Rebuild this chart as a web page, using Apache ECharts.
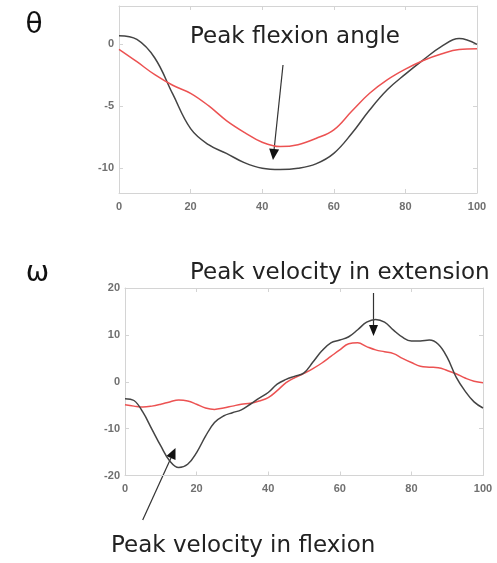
<!DOCTYPE html>
<html>
<head>
<meta charset="utf-8">
<script src="https://cdn.jsdelivr.net/npm/echarts@6/dist/echarts.min.js"></script>
<style>
  html, body { margin: 0; padding: 0; background: #fff; }
  #chart { width: 497px; height: 563px; }
</style>
</head>
<body>
<div id="chart"></div>
<script>
// top panel: angle (theta)
var xTop = [0, 5, 10, 15, 20, 25, 30, 35, 40, 45, 50, 55, 60, 65, 70, 75, 80, 85, 90, 95, 100];
var thetaBlack = [0.7, 0.4, -1.1, -4.0, -6.8, -8.1, -8.8, -9.55, -10.0, -10.1, -10.0, -9.65, -8.8, -7.2, -5.3, -3.65, -2.4, -1.25, -0.18, 0.47, 0.0];
var thetaRed = [-0.4, -1.4, -2.45, -3.3, -3.95, -4.95, -6.15, -7.1, -7.9, -8.25, -8.1, -7.6, -6.9, -5.4, -3.95, -2.85, -2.0, -1.3, -0.78, -0.42, -0.36];

// bottom panel: velocity (omega)
var xBot = [0, 2.5, 5, 7.5, 10, 12.5, 15, 17.5, 20, 22.5, 25, 27.5, 30, 32.5, 35, 37.5, 40, 42.5, 45, 47.5, 50,
            52.5, 55, 57.5, 60, 62.5, 65, 67.5, 70, 72.5, 75, 77.5, 80, 82.5, 85, 87.5, 90, 92.5, 95, 97.5, 100];
var omegaBlack = [-3.6, -4.0, -6.5, -10.1, -13.7, -16.9, -18.3, -17.6, -15.1, -11.6, -8.7, -7.3, -6.6, -6.0, -4.8, -3.5, -2.3, -0.5, 0.5, 1.2, 1.9,
                  4.2, 6.6, 8.3, 8.9, 9.6, 11.1, 12.7, 13.3, 12.7, 11.0, 9.5, 8.7, 8.7, 8.9, 8.0, 5.2, 1.0, -2.0, -4.3, -5.6];
var omegaRed = [-4.9, -5.2, -5.4, -5.2, -4.8, -4.3, -3.9, -4.1, -4.8, -5.6, -5.9, -5.6, -5.2, -4.8, -4.6, -4.1, -3.4, -1.9, -0.2, 0.9, 1.8,
                2.8, 4.0, 5.4, 6.8, 8.1, 8.3, 7.5, 6.8, 6.4, 6.0, 5.0, 4.1, 3.3, 3.1, 3.0, 2.4, 1.7, 0.8, 0.1, -0.2];

var thetaTicks = [-10, -5, 0];

var frameColor = '#d4d4d4';
var labelStyle = { color: '#707070', fontSize: 11, fontFamily: 'Liberation Sans', fontWeight: 'bold' };
var noteFont = '23px "DejaVu Sans"';

function pairs(xs, ys) {
    return xs.map(function (x, i) { return [x, ys[i]]; });
}

function arrow(x1, y1, x2, y2, len, half) {
    var dx = x2 - x1, dy = y2 - y1;
    var d = Math.sqrt(dx * dx + dy * dy);
    var ux = dx / d, uy = dy / d;
    var bx = x2 - ux * len, by = y2 - uy * len;
    return [
        { type: 'line', shape: { x1: x1, y1: y1, x2: bx, y2: by },
          style: { stroke: '#333', lineWidth: 1.2 } },
        { type: 'polygon', shape: { points: [[x2, y2], [bx - uy * half, by + ux * half], [bx + uy * half, by - ux * half]] },
          style: { fill: '#111' } }
    ];
}

function xAx(grid, pos, show) {
    return {
        type: 'value', gridIndex: grid, position: pos, min: 0, max: 100, interval: 20,
        axisLine: { show: true, onZero: false, lineStyle: { color: frameColor } },
        axisTick: { show: true, inside: true, length: 4, lineStyle: { color: frameColor } },
        axisLabel: Object.assign({ show: show, margin: 8 }, labelStyle),
        splitLine: { show: false }
    };
}

function yAx(grid, pos, show, min, max, ticks) {
    var a = {
        type: 'value', gridIndex: grid, position: pos, min: min, max: max,
        axisLine: { show: true, onZero: false, lineStyle: { color: frameColor } },
        axisTick: { show: true, inside: true, length: 4, lineStyle: { color: frameColor } },
        axisLabel: Object.assign({ show: show, margin: 5 }, labelStyle),
        splitLine: { show: false }
    };
    if (ticks) {
        a.axisTick.customValues = ticks;
        a.axisLabel.customValues = ticks;
    } else {
        a.interval = 10;
    }
    return a;
}

var dom = document.getElementById('chart');
var myChart = echarts.init(dom);

var option = {
    animation: false,
    grid: [
        { left: 119, top: 6, width: 358, height: 187 },
        { left: 125, top: 288, width: 358, height: 187.5 }
    ],
    xAxis: [
        xAx(0, 'bottom', true),
        xAx(0, 'top', false),
        xAx(1, 'bottom', true),
        xAx(1, 'top', false)
    ],
    yAxis: [
        yAx(0, 'left', true, -12, 3.1, thetaTicks),
        yAx(0, 'right', false, -12, 3.1, thetaTicks),
        yAx(1, 'left', true, -20, 20),
        yAx(1, 'right', false, -20, 20)
    ],
    series: [
        { name: 'theta black', type: 'line', xAxisIndex: 0, yAxisIndex: 0, data: pairs(xTop, thetaBlack),
          smooth: 0.4, showSymbol: false, lineStyle: { color: '#444', width: 1.5 } },
        { name: 'theta red', type: 'line', xAxisIndex: 0, yAxisIndex: 0, data: pairs(xTop, thetaRed),
          smooth: 0.4, showSymbol: false, lineStyle: { color: '#ec5252', width: 1.5 } },
        { name: 'omega red', type: 'line', xAxisIndex: 2, yAxisIndex: 2, data: pairs(xBot, omegaRed),
          smooth: 0.4, showSymbol: false, lineStyle: { color: '#ec5252', width: 1.5 } },
        { name: 'omega black', type: 'line', xAxisIndex: 2, yAxisIndex: 2, data: pairs(xBot, omegaBlack),
          smooth: 0.4, showSymbol: false, lineStyle: { color: '#444', width: 1.5 } }
    ],
    graphic: [
        { type: 'text', x: 34, y: 26, style: { text: 'θ', font: '28px "DejaVu Sans"', fill: '#111', align: 'center', verticalAlign: 'middle' } },
        { type: 'text', x: 37.5, y: 274, style: { text: 'ω', font: '28px "DejaVu Sans"', fill: '#111', align: 'center', verticalAlign: 'middle' } },
        { type: 'text', x: 190, y: 37, style: { text: 'Peak flexion angle', font: noteFont, fill: '#222', align: 'left', verticalAlign: 'middle' } },
        { type: 'text', x: 190, y: 273, style: { text: 'Peak velocity in extension', font: noteFont, fill: '#222', align: 'left', verticalAlign: 'middle' } },
        { type: 'text', x: 111, y: 546, style: { text: 'Peak velocity in flexion', font: noteFont, fill: '#222', align: 'left', verticalAlign: 'middle' } }
    ]
        .concat(arrow(283, 65, 273, 160, 11, 5))
        .concat(arrow(373.5, 293, 373.5, 336, 11, 4.5))
        .concat(arrow(142.7, 520, 175.5, 448, 11, 5))
};

if (option && typeof option === "object") {
    myChart.setOption(option, true);
}
</script>
</body>
</html>
